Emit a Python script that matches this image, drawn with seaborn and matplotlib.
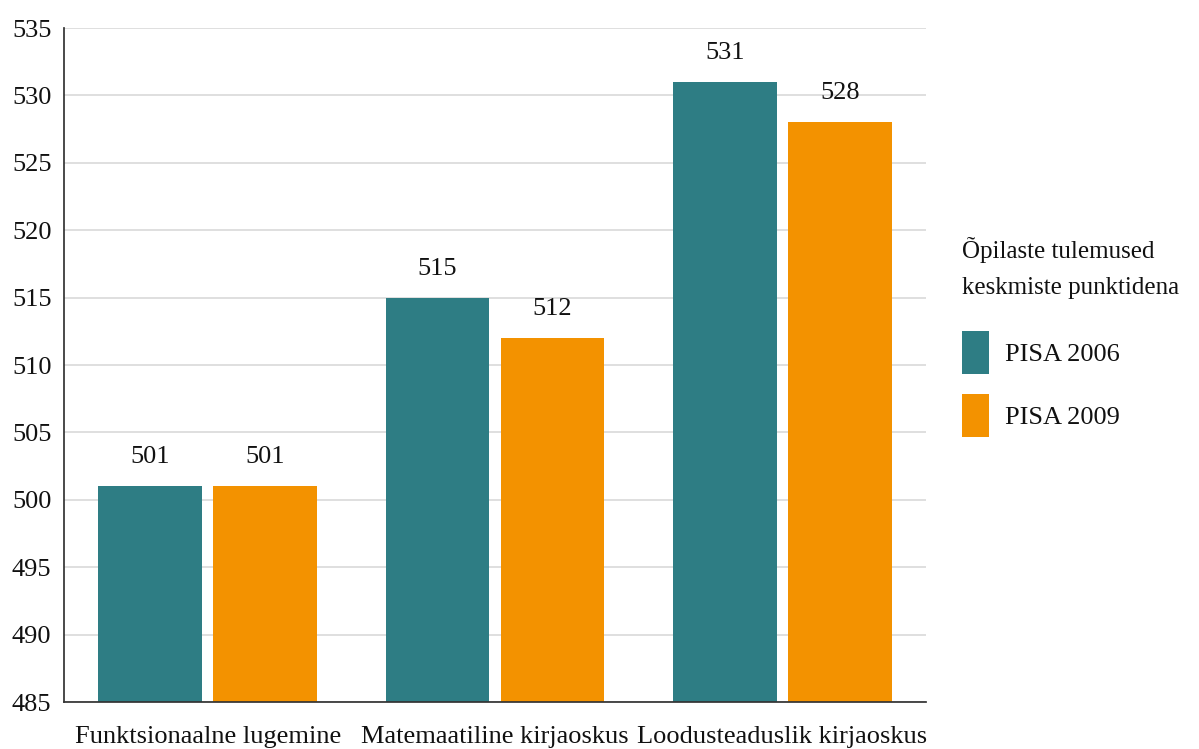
import pandas as pd
import numpy as np
import matplotlib.pyplot as plt
import seaborn as sns

categories = ['Funktsionaalne lugemine', 'Matemaatiline kirjaoskus', 'Loodusteaduslik kirjaoskus']
pisa_2006 = [501, 515, 531]
pisa_2009 = [501, 512, 528]
series = ['PISA 2006', 'PISA 2009']
legend_title = 'Õpilaste tulemused\nkeskmiste punktidena'

df = pd.DataFrame({
    'Valdkond': categories * 2,
    'Tulemus': pisa_2006 + pisa_2009,
    'Aasta': [series[0]] * 3 + [series[1]] * 3,
})

sns.set_theme(style='white')
plt.rcParams['font.family'] = ['Liberation Serif', 'DejaVu Serif']
fs = 19

fig = plt.figure(figsize=(11.99, 7.49), dpi=100)
ax = fig.add_axes([64 / 1199, 47 / 749, 862 / 1199, 674 / 749])

palette = {'PISA 2006': '#2E7D84', 'PISA 2009': '#F39200'}
sns.barplot(data=df, x='Valdkond', y='Tulemus', hue='Aasta', palette=palette,
            width=0.8, gap=0.1, ax=ax, saturation=1, legend=True, linewidth=0)

ax.set_ylim(485, 535)
ax.set_yticks(np.arange(485, 536, 5))
ax.set_xlim(-0.5, 2.5)
ax.grid(axis='y', color='#d9d9d9', linewidth=1.2)
ax.set_axisbelow(True)
ax.tick_params(axis='both', labelsize=fs, length=0, labelcolor='#111111')
ax.tick_params(axis='y', pad=9)
ax.tick_params(axis='x', pad=17)
ax.set_xlabel('')
ax.set_ylabel('')
for s in ['top', 'right']:
    ax.spines[s].set_visible(False)
ax.spines['left'].set_color('#333333')
ax.spines['bottom'].set_color('#333333')

for c in ax.containers:
    ax.bar_label(c, fmt='%d', padding=13, fontsize=fs, color='#111111')

# legend title drawn separately so the spacing can match
fig.text(962 / 1199, 1 - 237 / 749, legend_title, ha='left', va='top',
         fontsize=18, linespacing=1.8, color='#111111')

handles, labels = ax.get_legend_handles_labels()
ax.get_legend().remove()
leg = fig.legend(handles, labels, loc='upper left',
                 bbox_to_anchor=(938 / 1199, 1 - 307 / 749), frameon=False,
                 fontsize=fs, handlelength=1.05, handleheight=2.15,
                 labelspacing=0.75, handletextpad=0.6)
for t in leg.get_texts():
    t.set_color('#111111')

plt.savefig('out.png', dpi=100)
plt.close()
